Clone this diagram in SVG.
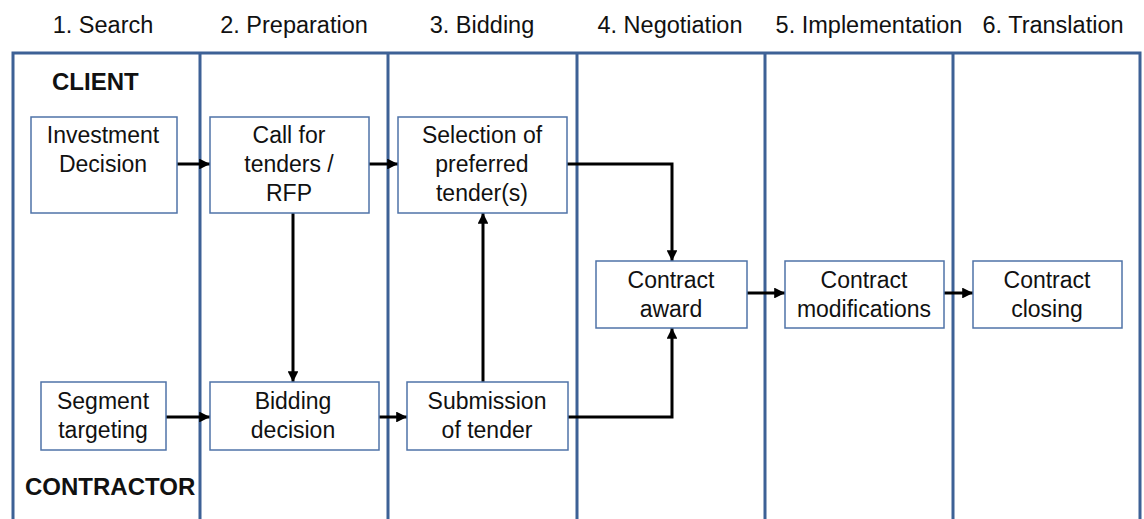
<svg xmlns="http://www.w3.org/2000/svg" width="1144" height="519" viewBox="0 0 1144 519">
  <style>
    .hdr { font-family: "Liberation Sans", Arial, sans-serif; font-size: 23.5px; fill: #111; text-anchor: middle; }
    .lbl { font-family: "Liberation Sans", Arial, sans-serif; font-size: 23px; fill: #111; text-anchor: middle; }
    .role { font-family: "Liberation Sans", Arial, sans-serif; font-size: 24px; font-weight: bold; fill: #111; }
    .lane { fill: none; stroke: #3d6196; stroke-width: 3; }
    .box { fill: #fff; stroke: #4f73a8; stroke-width: 1.5; }
    .conn { fill: none; stroke: #000; stroke-width: 3; marker-end: url(#arrow); }
  </style>
  <defs>
    <marker id="arrow" viewBox="0 0 10 10" refX="10" refY="5" markerWidth="3.6" markerHeight="3.6" markerUnits="strokeWidth" orient="auto">
      <path d="M0,0 L10,5 L0,10 Z" fill="#000"/>
    </marker>
  </defs>
  <rect width="1144" height="519" fill="#fff"/>

  <!-- phase headings -->
  <g id="headers">
    <text class="hdr" x="103" y="33">1. Search</text>
    <text class="hdr" x="294" y="33">2. Preparation</text>
    <text class="hdr" x="482" y="33">3. Bidding</text>
    <text class="hdr" x="670" y="33">4. Negotiation</text>
    <text class="hdr" x="869" y="33">5. Implementation</text>
    <text class="hdr" x="1053" y="33">6. Translation</text>
  </g>

  <!-- swimlane frame -->
  <g id="lanes">
    <path class="lane" d="M13,525 V53 H1140 V525"/>
    <line class="lane" x1="200" y1="53" x2="200" y2="525"/>
    <line class="lane" x1="388" y1="53" x2="388" y2="525"/>
    <line class="lane" x1="577" y1="53" x2="577" y2="525"/>
    <line class="lane" x1="765" y1="53" x2="765" y2="525"/>
    <line class="lane" x1="953" y1="53" x2="953" y2="525"/>
  </g>

  <text class="role" x="52" y="90">CLIENT</text>
  <text class="role" x="25" y="495">CONTRACTOR</text>

  <!-- connectors -->
  <g id="connectors">
    <path class="conn" d="M177,164 H210"/>
    <path class="conn" d="M369,164 H398"/>
    <path class="conn" d="M567,164 H672 V261"/>
    <path class="conn" d="M293,213 V382"/>
    <path class="conn" d="M483,382 V213"/>
    <path class="conn" d="M568,417 H672 V328"/>
    <path class="conn" d="M166,417 H210"/>
    <path class="conn" d="M379,417 H407"/>
    <path class="conn" d="M747,293 H785"/>
    <path class="conn" d="M944,293 H973"/>
  </g>

  <g id="investment-decision">
    <rect class="box" x="31" y="117" width="146" height="96"/>
    <text class="lbl" x="103" y="143">Investment</text>
    <text class="lbl" x="103" y="172">Decision</text>
  </g>
  <g id="call-for-tenders">
    <rect class="box" x="210" y="117" width="159" height="96"/>
    <text class="lbl" x="289" y="143">Call for</text>
    <text class="lbl" x="289" y="172">tenders /</text>
    <text class="lbl" x="289" y="201">RFP</text>
  </g>
  <g id="selection">
    <rect class="box" x="398" y="117" width="169" height="96"/>
    <text class="lbl" x="482" y="143">Selection of</text>
    <text class="lbl" x="482" y="172">preferred</text>
    <text class="lbl" x="482" y="201">tender(s)</text>
  </g>
  <g id="contract-award">
    <rect class="box" x="596" y="261" width="151" height="67"/>
    <text class="lbl" x="671" y="288">Contract</text>
    <text class="lbl" x="671" y="317">award</text>
  </g>
  <g id="contract-modifications">
    <rect class="box" x="785" y="261" width="159" height="67"/>
    <text class="lbl" x="864" y="288">Contract</text>
    <text class="lbl" x="864" y="317">modifications</text>
  </g>
  <g id="contract-closing">
    <rect class="box" x="973" y="261" width="149" height="67"/>
    <text class="lbl" x="1047" y="288">Contract</text>
    <text class="lbl" x="1047" y="317">closing</text>
  </g>
  <g id="segment-targeting">
    <rect class="box" x="41" y="382" width="125" height="68"/>
    <text class="lbl" x="103" y="409">Segment</text>
    <text class="lbl" x="103" y="438">targeting</text>
  </g>
  <g id="bidding-decision">
    <rect class="box" x="210" y="382" width="169" height="68"/>
    <text class="lbl" x="293" y="409">Bidding</text>
    <text class="lbl" x="293" y="438">decision</text>
  </g>
  <g id="submission">
    <rect class="box" x="407" y="382" width="161" height="68"/>
    <text class="lbl" x="487" y="409">Submission</text>
    <text class="lbl" x="487" y="438">of tender</text>
  </g>
</svg>
